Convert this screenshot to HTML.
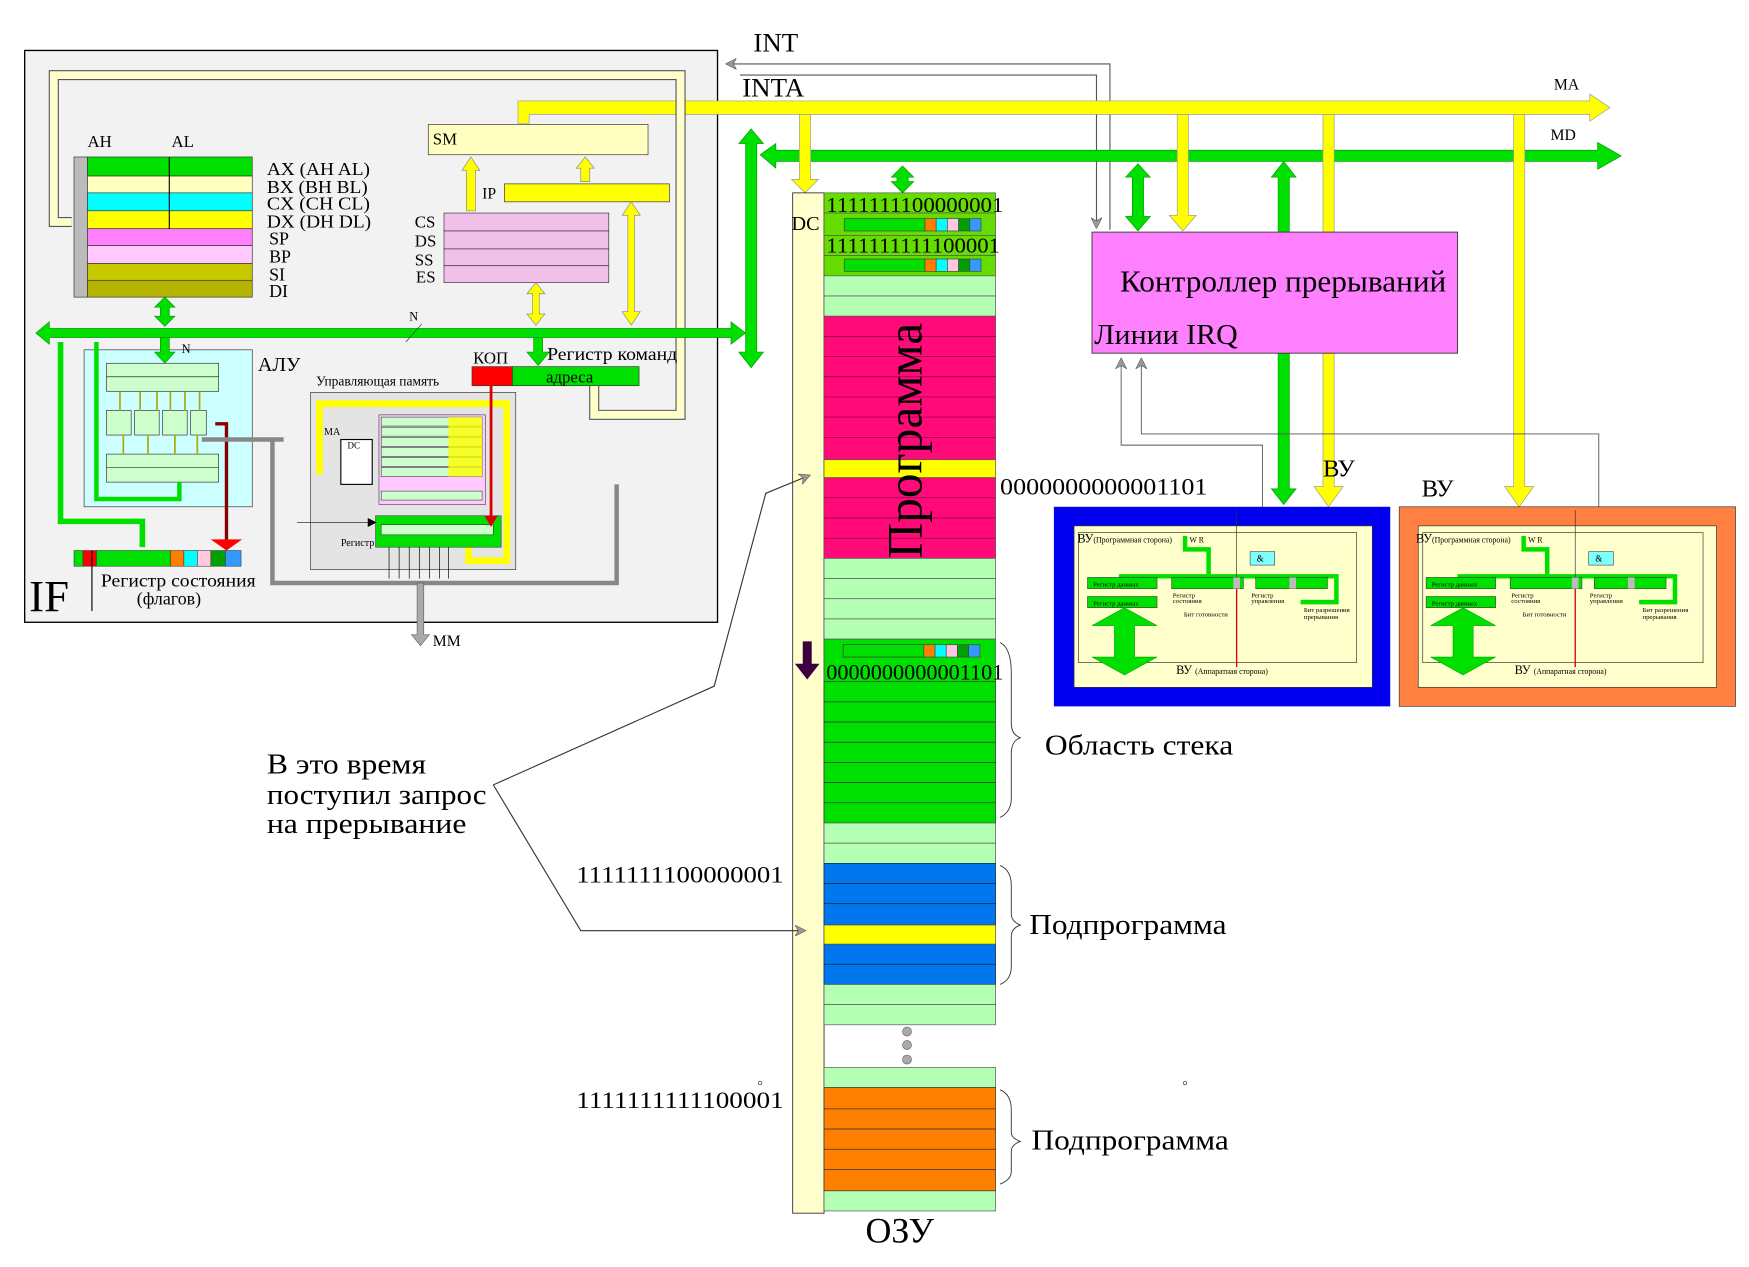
<!DOCTYPE html>
<html><head><meta charset="utf-8"><style>
html,body{margin:0;padding:0;background:#fff;}
svg{display:block;}
text{font-family:"Liberation Serif",serif;}
</style></head><body>
<svg width="1749" height="1267" viewBox="0 0 1560 1130" preserveAspectRatio="none" xmlns="http://www.w3.org/2000/svg">
<defs>
<marker id="ah" markerWidth="10" markerHeight="10" refX="9" refY="5" orient="auto" markerUnits="userSpaceOnUse"><path d="M0,0 L10,5 L0,10 L3,5 z" fill="#999" stroke="#555" stroke-width="0.5"/></marker>
<marker id="ab" markerWidth="8" markerHeight="8" refX="7" refY="4" orient="auto" markerUnits="userSpaceOnUse"><path d="M0,0 L8,4 L0,8 z" fill="#000"/></marker>
</defs>
<rect width="1560" height="1130" fill="#fff"/>

<rect x="22" y="45" width="618" height="510" fill="#f2f2f2" stroke="#000" stroke-width="1.2"/>

<polyline points="990,205 990,57 648,57" fill="none" stroke="#555" stroke-width="1" marker-end="url(#ah)"/>
<polyline points="660,67 978,67 978,203" fill="none" stroke="#555" stroke-width="1" marker-end="url(#ah)"/>
<text x="672" y="46" font-size="24">INT</text>
<text x="662" y="86" font-size="24">INTA</text>

<polygon points="462,110 462,90 1418,90 1418,84 1436,96 1418,108 1418,102 472,102 472,110" fill="#ffff00" stroke="#999" stroke-width="0.6"/>
<text x="1386" y="80" font-size="14">MA</text>
<polygon points="678,138 692,128 692,134 1425,134 1425,127 1446,139 1425,151 1425,144 692,144 692,150" fill="#00e000" stroke="#090" stroke-width="0.6"/>
<text x="1383" y="125" font-size="14">MD</text>

<polygon points="670,115 681,128 675,128 675,314 681,314 670,328 659,314 665,314 665,128 659,128" fill="#00e000" stroke="#090" stroke-width="0.6"/>

<polygon points="713,102 723,102 723,160 730,160 718,172 706,160 713,160" fill="#ffff00" stroke="#999" stroke-width="0.6"/>
<polygon points="805,148 815,158 810,158 810,162 815,162 805,172 795,162 800,162 800,158 795,158" fill="#00e000" stroke="#090" stroke-width="0.6"/>

<rect x="707" y="172" width="28" height="910" fill="#ffffcc" stroke="#333" stroke-width="0.8"/>
<text x="706" y="205" font-size="18">DC</text>
<g stroke="#555" stroke-width="0.6">
<rect x="735" y="172" width="153" height="18" fill="#66dd00"/>
<rect x="735" y="190" width="153" height="20" fill="#66dd00"/>
<rect x="735" y="210" width="153" height="18" fill="#66dd00"/>
<rect x="735" y="228" width="153" height="18" fill="#66dd00"/>
<rect x="735" y="246" width="153" height="18" fill="#b3ffb3"/>
<rect x="735" y="264" width="153" height="18" fill="#b3ffb3"/>
</g>
<g stroke="#444" stroke-width="0.6">
<rect x="753" y="195" width="72" height="11" fill="#00e000"/>
<rect x="825" y="195" width="10" height="11" fill="#ff8000"/><rect x="835" y="195" width="10" height="11" fill="#00ffff"/><rect x="845" y="195" width="10" height="11" fill="#ffc8e0"/><rect x="855" y="195" width="10" height="11" fill="#00a000"/><rect x="865" y="195" width="10" height="11" fill="#3399ff"/>
<rect x="753" y="231" width="72" height="11" fill="#00e000"/>
<rect x="825" y="231" width="10" height="11" fill="#ff8000"/><rect x="835" y="231" width="10" height="11" fill="#00ffff"/><rect x="845" y="231" width="10" height="11" fill="#ffc8e0"/><rect x="855" y="231" width="10" height="11" fill="#00a000"/><rect x="865" y="231" width="10" height="11" fill="#3399ff"/>
</g>
<text x="737" y="189" font-size="19" textLength="158" lengthAdjust="spacingAndGlyphs">1111111100000001</text>
<text x="737" y="225" font-size="19" textLength="155" lengthAdjust="spacingAndGlyphs">1111111111100001</text>
<rect x="735" y="282" width="153" height="128" fill="#ff0a78" stroke="#555" stroke-width="0.6"/>
<rect x="735" y="410" width="153" height="16" fill="#ffff00" stroke="#555" stroke-width="0.6"/>
<rect x="735" y="426" width="153" height="72" fill="#ff0a78" stroke="#555" stroke-width="0.6"/>
<g stroke="#800040" stroke-width="0.6">
<line x1="735" y1="300" x2="888" y2="300"/><line x1="735" y1="318" x2="888" y2="318"/><line x1="735" y1="336" x2="888" y2="336"/><line x1="735" y1="354" x2="888" y2="354"/><line x1="735" y1="372" x2="888" y2="372"/><line x1="735" y1="390" x2="888" y2="390"/>
<line x1="735" y1="444" x2="888" y2="444"/><line x1="735" y1="462" x2="888" y2="462"/><line x1="735" y1="480" x2="888" y2="480"/>
</g>
<text transform="translate(822,498) rotate(-90)" font-size="44" textLength="210" lengthAdjust="spacingAndGlyphs">Программа</text>
<g fill="#b3ffb3" stroke="#555" stroke-width="0.6">
<rect x="735" y="498" width="153" height="18"/><rect x="735" y="516" width="153" height="18"/><rect x="735" y="534" width="153" height="18"/><rect x="735" y="552" width="153" height="18"/>
</g>
<rect x="735" y="570" width="153" height="38" fill="#00e000" stroke="#555" stroke-width="0.6"/>
<rect x="752" y="575" width="72" height="11" fill="#00e000" stroke="#333" stroke-width="0.6"/>
<g stroke="#444" stroke-width="0.6">
<rect x="824" y="575" width="10" height="11" fill="#ff8000"/><rect x="834" y="575" width="10" height="11" fill="#00ffff"/><rect x="844" y="575" width="10" height="11" fill="#ffc8e0"/><rect x="854" y="575" width="10" height="11" fill="#00a000"/><rect x="864" y="575" width="10" height="11" fill="#3399ff"/>
</g>
<text x="737" y="606" font-size="20" textLength="158" lengthAdjust="spacingAndGlyphs">0000000000001101</text>
<g fill="#00e000" stroke="#333" stroke-width="0.6">
<rect x="735" y="608" width="153" height="18"/><rect x="735" y="626" width="153" height="18"/><rect x="735" y="644" width="153" height="18"/><rect x="735" y="662" width="153" height="18"/><rect x="735" y="680" width="153" height="18"/><rect x="735" y="698" width="153" height="18"/><rect x="735" y="716" width="153" height="18"/>
</g>
<g fill="#b3ffb3" stroke="#555" stroke-width="0.6">
<rect x="735" y="734" width="153" height="18"/><rect x="735" y="752" width="153" height="18"/>
</g>
<g fill="#0077ee" stroke="#223" stroke-width="0.6">
<rect x="735" y="770" width="153" height="18"/><rect x="735" y="788" width="153" height="18"/><rect x="735" y="806" width="153" height="19"/>
<rect x="735" y="842" width="153" height="18"/><rect x="735" y="860" width="153" height="18"/>
</g>
<rect x="735" y="825" width="153" height="17" fill="#ffff00" stroke="#555" stroke-width="0.6"/>
<g fill="#b3ffb3" stroke="#555" stroke-width="0.6">
<rect x="735" y="878" width="153" height="18"/><rect x="735" y="896" width="153" height="18"/>
<rect x="735" y="952" width="153" height="18"/><rect x="735" y="1062" width="153" height="18"/>
</g>
<g fill="#aaa" stroke="#666" stroke-width="0.6"><circle cx="809" cy="920" r="4"/><circle cx="809" cy="932" r="4"/><circle cx="809" cy="945" r="4"/></g>
<g fill="#ff8000" stroke="#333" stroke-width="0.6">
<rect x="735" y="970" width="153" height="19"/><rect x="735" y="989" width="153" height="18"/><rect x="735" y="1007" width="153" height="18"/><rect x="735" y="1025" width="153" height="18"/><rect x="735" y="1043" width="153" height="19"/>
</g>
<text x="772" y="1108" font-size="32">ОЗУ</text>
<polygon points="716,572 724,572 724,592 731,592 720,606 709,592 716,592" fill="#3a0040"/>

<g fill="none" stroke="#333" stroke-width="0.8">
<path d="M892,573 Q902,578 902,600 L902,645 Q902,655 910,658 Q902,661 902,672 L902,712 Q902,724 892,729"/>
<path d="M892,772 Q902,776 902,790 L902,815 Q902,822 910,825 Q902,828 902,835 L902,862 Q902,874 892,878"/>
<path d="M892,972 Q902,976 902,990 L902,1010 Q902,1015 910,1018 Q902,1021 902,1027 L902,1045 Q902,1052 892,1056"/>
</g>
<text x="892" y="441" font-size="21" textLength="185" lengthAdjust="spacingAndGlyphs">0000000000001101</text>
<text x="932" y="673" font-size="25" textLength="168" lengthAdjust="spacingAndGlyphs">Область стека</text>
<text x="918" y="833" font-size="25" textLength="176" lengthAdjust="spacingAndGlyphs">Подпрограмма</text>
<text x="920" y="1025" font-size="25" textLength="176" lengthAdjust="spacingAndGlyphs">Подпрограмма</text>
<text x="514" y="787" font-size="21" textLength="185" lengthAdjust="spacingAndGlyphs">1111111100000001</text>
<text x="514" y="988" font-size="21" textLength="185" lengthAdjust="spacingAndGlyphs">1111111111100001</text>
<circle cx="678" cy="966" r="1.5" fill="none" stroke="#333" stroke-width="0.6"/>
<circle cx="1057" cy="966" r="1.5" fill="none" stroke="#333" stroke-width="0.6"/>
<text x="238" y="690" font-size="25" textLength="142" lengthAdjust="spacingAndGlyphs">В это время</text>
<text x="238" y="717" font-size="25" textLength="196" lengthAdjust="spacingAndGlyphs">поступил запрос</text>
<text x="238" y="743" font-size="25" textLength="178" lengthAdjust="spacingAndGlyphs">на прерывание</text>
<polyline points="440,700 637,612 683,440 722,424" fill="none" stroke="#333" stroke-width="1" marker-end="url(#ah)"/>
<polyline points="440,700 518,830 718,830" fill="none" stroke="#333" stroke-width="1" marker-end="url(#ah)"/>

<!-- bus drops -->
<polygon points="1015,146 1026,158 1020,158 1020,193 1026,193 1015,206 1004,193 1010,193 1010,158 1004,158" fill="#00e000" stroke="#090" stroke-width="0.6"/>
<polygon points="1050,102 1060,102 1060,192 1067,192 1055,206 1043,192 1050,192" fill="#ffff00" stroke="#999" stroke-width="0.6"/>
<polygon points="1145,144 1156,158 1150,158 1150,436 1156,436 1145,450 1134,436 1140,436 1140,158 1134,158" fill="#00e000" stroke="#090" stroke-width="0.6"/>
<polygon points="1180,102 1190,102 1190,434 1198,434 1185,452 1172,434 1180,434" fill="#ffff00" stroke="#999" stroke-width="0.6"/>
<polygon points="1350,102 1360,102 1360,434 1368,434 1355,452 1342,434 1350,434" fill="#ffff00" stroke="#999" stroke-width="0.6"/>
<!-- controller -->
<rect x="974" y="207" width="326" height="108" fill="#ff80ff" stroke="#333" stroke-width="0.8"/>
<text x="999" y="260" font-size="27" textLength="291" lengthAdjust="spacingAndGlyphs">Контроллер прерываний</text>
<text x="976" y="307" font-size="25" textLength="128" lengthAdjust="spacingAndGlyphs">Линии IRQ</text>
<text x="1180" y="425" font-size="22">ВУ</text>
<text x="1268" y="443" font-size="22">ВУ</text>
<polyline points="1126,485 1126,397 1000,397 1000,320" fill="none" stroke="#555" stroke-width="0.8" marker-end="url(#ah)"/>
<polyline points="1426,485 1426,387 1018,387 1018,320" fill="none" stroke="#555" stroke-width="0.8" marker-end="url(#ah)"/>

<rect x="940" y="452" width="300" height="178" fill="#0000ee"/>
<rect x="958" y="469" width="266" height="144" fill="#ffffcc" stroke="#333" stroke-width="0.6"/>
<rect x="962" y="475" width="248" height="116" fill="none" stroke="#333" stroke-width="0.6"/>
<rect x="1248" y="452" width="300" height="178" fill="#ff8040" stroke="#333" stroke-width="0.6"/>
<rect x="1265" y="469" width="266" height="144" fill="#ffffcc" stroke="#333" stroke-width="0.6"/>
<rect x="1269" y="475" width="250" height="116" fill="none" stroke="#333" stroke-width="0.6"/>
<g id="vuin">
<text x="961" y="484" font-size="11">ВУ<tspan font-size="7">(Программная сторона)</tspan></text>
<text x="1061" y="484" font-size="7">W R</text>
<polyline points="1057,478 1057,490 1078,490 1078,514" fill="none" stroke="#00e000" stroke-width="4"/>
<polyline points="1000,519 1000,514 1192,514 1192,537 1160,537" fill="none" stroke="#00e000" stroke-width="4"/>
<rect x="970" y="515" width="62" height="10" fill="#00e000" stroke="#333" stroke-width="0.5"/>
<rect x="970" y="532" width="62" height="10" fill="#00e000" stroke="#333" stroke-width="0.5"/>
<text x="975" y="523" font-size="6">Регистр данных</text>
<text x="975" y="540" font-size="6">Регистр данных</text>
<rect x="1045" y="515" width="64" height="10" fill="#00e000" stroke="#333" stroke-width="0.5"/>
<rect x="1120" y="515" width="64" height="10" fill="#00e000" stroke="#333" stroke-width="0.5"/>
<rect x="1100" y="515" width="6" height="10" fill="#bbb"/>
<rect x="1150" y="515" width="6" height="10" fill="#bbb"/>
<rect x="1115" y="492" width="22" height="12" fill="#80ffff" stroke="#333" stroke-width="0.5"/>
<text x="1121" y="501" font-size="8">&amp;</text>
<text x="1046" y="533" font-size="6">Регистр</text><text x="1046" y="538" font-size="6">состояния</text>
<text x="1116" y="533" font-size="6">Регистр</text><text x="1116" y="538" font-size="6">управления</text>
<text x="1056" y="550" font-size="6">Бит готовности</text>
<text x="1163" y="546" font-size="6">Бит разрешения</text><text x="1163" y="552" font-size="6">прерывания</text>
<line x1="1103" y1="525" x2="1103" y2="595" stroke="#d00" stroke-width="1.2"/>
<line x1="1103" y1="455" x2="1103" y2="515" stroke="#333" stroke-width="0.6"/>
<polygon points="1003,542 1032,558 1012,558 1012,586 1032,586 1003,602 974,586 994,586 994,558 974,558" fill="#00e000" stroke="#090" stroke-width="0.5"/>
<text x="1049" y="601" font-size="11">ВУ <tspan font-size="7">(Аппаратная сторона)</tspan></text>
</g>
<use href="#vuin" transform="translate(302,0)"/>

<!-- CPU internals -->
<polyline points="530,335 530,370 607,370 607,67 48,67 48,198 64,198" fill="none" stroke="#555" stroke-width="9"/>
<polyline points="530,335 530,370 607,370 607,67 48,67 48,198 64,198" fill="none" stroke="#ffffcc" stroke-width="7"/>
<text x="78" y="131" font-size="15">AH</text>
<text x="153" y="131" font-size="15">AL</text>
<rect x="66" y="140" width="12" height="125" fill="#bbb" stroke="#333" stroke-width="0.6"/>
<g stroke="#333" stroke-width="0.6">
<rect x="78" y="140" width="147" height="17" fill="#00e000"/>
<rect x="78" y="157" width="147" height="15" fill="#ffffc0"/>
<rect x="78" y="172" width="147" height="16" fill="#00ffff"/>
<rect x="78" y="188" width="147" height="16" fill="#ffff00"/>
<rect x="78" y="204" width="147" height="15" fill="#ff80ff"/>
<rect x="78" y="219" width="147" height="16" fill="#ffc8ff"/>
<rect x="78" y="235" width="147" height="15" fill="#c8c800"/>
<rect x="78" y="250" width="147" height="15" fill="#b4b400"/>
</g>
<line x1="151" y1="140" x2="151" y2="204" stroke="#000" stroke-width="1"/>
<g font-size="16">
<text x="238" y="156" textLength="92" lengthAdjust="spacingAndGlyphs">AX  (AH AL)</text><text x="238" y="172" textLength="90" lengthAdjust="spacingAndGlyphs">BX  (BH BL)</text><text x="238" y="187" textLength="92" lengthAdjust="spacingAndGlyphs">CX  (CH CL)</text><text x="238" y="203" textLength="93" lengthAdjust="spacingAndGlyphs">DX  (DH DL)</text>
<text x="240" y="218">SP</text><text x="240" y="234">BP</text><text x="240" y="250">SI</text><text x="240" y="265">DI</text>
</g>
<rect x="382" y="111" width="196" height="27" fill="#ffffc0" stroke="#333" stroke-width="0.6"/>
<text x="386" y="129" font-size="15">SM</text>
<rect x="450" y="164" width="147" height="16" fill="#ffff00" stroke="#333" stroke-width="0.6"/>
<text x="430" y="177" font-size="14">IP</text>
<g stroke="#333" stroke-width="0.6" fill="#f0c0e8">
<rect x="396" y="190" width="147" height="16"/><rect x="396" y="206" width="147" height="16"/><rect x="396" y="222" width="147" height="15"/><rect x="396" y="237" width="147" height="15"/>
</g>
<g font-size="15"><text x="370" y="203">CS</text><text x="370" y="220">DS</text><text x="370" y="237">SS</text><text x="371" y="252">ES</text></g>
<g fill="#ffff00" stroke="#888" stroke-width="0.6">
<polygon points="416,188 416,152 412,152 420,140 428,152 424,152 424,188"/>
<polygon points="518,162 518,150 514,150 522,140 530,150 526,150 526,162"/>
<polygon points="563,180 571,192 566,192 566,278 571,278 563,290 555,278 560,278 560,192 555,192"/>
<polygon points="478,252 486,262 481,262 481,280 486,280 478,290 470,280 475,280 475,262 470,262"/>
</g>
<polygon points="32,297 44,287 44,293 652,293 652,287 665,297 652,307 652,301 44,301 44,307" fill="#00e000" stroke="#090" stroke-width="0.6"/>
<line x1="362" y1="305" x2="376" y2="289" stroke="#333" stroke-width="0.6"/>
<text x="365" y="286" font-size="11">N</text>
<polygon points="147,265 156,274 151,274 151,282 156,282 147,291 138,282 143,282 143,274 138,274" fill="#00e000" stroke="#090" stroke-width="0.6"/>
<rect x="75" y="312" width="150" height="140" fill="#ccffff" stroke="#333" stroke-width="0.6"/>
<text x="230" y="331" font-size="18">АЛУ</text>
<polygon points="143,301 151,301 151,314 156,314 147,324 138,314 143,314" fill="#00e000" stroke="#090" stroke-width="0.6"/>
<text x="162" y="315" font-size="11">N</text>
<rect x="95" y="324" width="100" height="25" fill="#ccffcc" stroke="#333" stroke-width="0.6"/>
<line x1="95" y1="336" x2="195" y2="336" stroke="#333" stroke-width="0.6"/>
<rect x="95" y="405" width="100" height="25" fill="#ccffcc" stroke="#333" stroke-width="0.6"/>
<line x1="95" y1="417" x2="195" y2="417" stroke="#333" stroke-width="0.6"/>
<g fill="#ccffcc" stroke="#333" stroke-width="0.6">
<rect x="95" y="366" width="22" height="22"/><rect x="120" y="366" width="22" height="22"/><rect x="145" y="366" width="22" height="22"/><rect x="170" y="366" width="14" height="22"/>
</g>
<g stroke="#aa0" stroke-width="1.5"><line x1="107" y1="349" x2="107" y2="366"/><line x1="125" y1="349" x2="125" y2="366"/><line x1="140" y1="349" x2="140" y2="366"/><line x1="152" y1="349" x2="152" y2="366"/><line x1="165" y1="349" x2="165" y2="366"/><line x1="178" y1="349" x2="178" y2="366"/>
<line x1="110" y1="388" x2="110" y2="405"/><line x1="132" y1="388" x2="132" y2="405"/><line x1="156" y1="388" x2="156" y2="405"/><line x1="176" y1="388" x2="176" y2="405"/></g>
<polyline points="54,305 54,465 127,465 127,488" fill="none" stroke="#00e000" stroke-width="5"/>
<polyline points="86,305 86,445 160,445 160,430" fill="none" stroke="#00e000" stroke-width="4"/>
<polyline points="192,378 202,378 202,482" fill="none" stroke="#800" stroke-width="3"/>
<polygon points="188,481 216,481 202,491" fill="#f00"/>
<g stroke="#333" stroke-width="0.5">
<rect x="66" y="491" width="8" height="14" fill="#00e000"/><rect x="74" y="491" width="12" height="14" fill="#f00"/><rect x="86" y="491" width="66" height="14" fill="#00e000"/>
<rect x="152" y="491" width="12" height="14" fill="#ff8000"/><rect x="164" y="491" width="12" height="14" fill="#00ffff"/><rect x="176" y="491" width="12" height="14" fill="#ffc8e0"/><rect x="188" y="491" width="13" height="14" fill="#00a000"/><rect x="201" y="491" width="14" height="14" fill="#3399ff"/>
</g>
<line x1="82" y1="491" x2="82" y2="545" stroke="#000" stroke-width="1"/>
<text x="26" y="545" font-size="40">IF</text>
<text x="90" y="523" font-size="16" textLength="138" lengthAdjust="spacingAndGlyphs">Регистр состояния</text>
<text x="122" y="539" font-size="16">(флагов)</text>
<polyline points="180,392 253,392" fill="none" stroke="#888" stroke-width="4"/>
<polyline points="243,393 243,520 550,520 550,432" fill="none" stroke="#888" stroke-width="4"/>
<polygon points="372,520 378,520 378,566 383,566 375,576 367,566 372,566" fill="#aaa" stroke="#555" stroke-width="0.5"/>
<text x="386" y="576" font-size="14">MM</text>
<rect x="421" y="327" width="36" height="17" fill="#f00" stroke="#333" stroke-width="0.6"/>
<rect x="457" y="327" width="113" height="17" fill="#00e000" stroke="#333" stroke-width="0.6"/>
<text x="487" y="341" font-size="15">адреса</text>
<text x="422" y="324" font-size="15">КОП</text>
<text x="488" y="321" font-size="16" textLength="116" lengthAdjust="spacingAndGlyphs">Регистр команд</text>
<polygon points="476,301 484,301 484,314 490,314 480,326 470,314 476,314" fill="#00e000" stroke="#090" stroke-width="0.6"/>
<text x="282" y="344" font-size="12">Управляющая память</text>
<rect x="277" y="350" width="183" height="158" fill="#e4e4e4" stroke="#333" stroke-width="0.6"/>
<polyline points="288,420 285,420 285,360 452,360 452,500 418,500 418,482" fill="none" stroke="#ffff00" stroke-width="6"/>
<rect x="338" y="370" width="95" height="80" fill="#ffc8ff" stroke="#333" stroke-width="0.5"/>
<g stroke="#333" stroke-width="0.5" fill="#ccffcc">
<rect x="340" y="372" width="90" height="8"/><rect x="340" y="381" width="90" height="8"/><rect x="340" y="390" width="90" height="8"/><rect x="340" y="399" width="90" height="8"/><rect x="340" y="408" width="90" height="8"/><rect x="340" y="417" width="90" height="8"/><rect x="340" y="438" width="90" height="8"/>
</g>
<rect x="400" y="372" width="30" height="53" fill="#ffff00" opacity="0.8"/>
<rect x="304" y="392" width="28" height="40" fill="#fff" stroke="#000" stroke-width="1"/>
<text x="289" y="388" font-size="9">MA</text>
<text x="310" y="400" font-size="8">DC</text>
<rect x="335" y="460" width="112" height="28" fill="#00e000" stroke="#333" stroke-width="0.5"/>
<rect x="340" y="468" width="100" height="9" fill="#ccffcc" stroke="#333" stroke-width="0.5"/>
<text x="304" y="487" font-size="9">Регистр</text>
<line x1="265" y1="466" x2="335" y2="466" stroke="#333" stroke-width="0.6" marker-end="url(#ab)"/>
<g stroke="#000" stroke-width="0.6">
<line x1="347" y1="488" x2="347" y2="516"/><line x1="356" y1="488" x2="356" y2="516"/><line x1="365" y1="488" x2="365" y2="516"/><line x1="374" y1="488" x2="374" y2="516"/><line x1="383" y1="488" x2="383" y2="516"/><line x1="392" y1="488" x2="392" y2="516"/><line x1="400" y1="488" x2="400" y2="516"/>
</g>
<line x1="438" y1="344" x2="438" y2="462" stroke="#d00" stroke-width="2.5"/>
<polygon points="432,460 444,460 438,470" fill="#d00"/>
</svg>
</body></html>
